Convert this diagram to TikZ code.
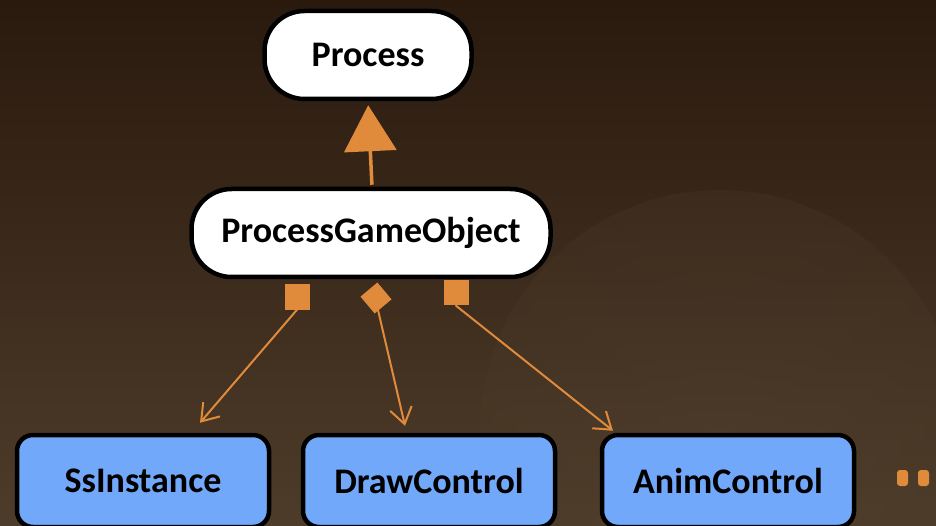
\documentclass[tikz,border=0pt]{standalone}
\usepackage{fontspec}
\setmainfont{Carlito}
\usetikzlibrary{arrows.meta}
\definecolor{bgdark}{HTML}{2A1A0E}
\definecolor{bglight}{HTML}{4E3C2A}
\definecolor{sketch}{HTML}{E08A3C}
\definecolor{boxblue}{HTML}{72A8FA}
\tikzset{
 classbox/.style={draw=black,line width=4.5pt,fill=white,rounded corners=40pt,
   minimum height=88pt,font=\fontsize{36}{40}\selectfont\bfseries,inner xsep=20pt},
 partbox/.style={classbox,fill=boxblue,rounded corners=16pt,minimum width=252pt,minimum height=92pt},
 inherit/.style={draw=sketch,line width=3.5pt,-{Triangle[length=46pt,width=52pt]}},
 owns/.style={draw=sketch,line width=2pt,line cap=round,-{Straight Barb[length=16pt,width=22pt]}},
 ownsq/.style={fill=sketch,minimum size=25pt,inner sep=0pt},
}
\begin{document}
\begin{tikzpicture}[x=1pt,y=-1pt]
 \useasboundingbox (0,0) rectangle (936,526);
 \shade[top color=bgdark,bottom color=bglight] (0,0) rectangle (936,526);
 \shade[inner color=bglight!85!gray,outer color=bglight,opacity=0.25] (720,430) circle (240);
 \node[classbox,minimum width=207pt] (proc) at (368,55) {Process};
 \node[classbox,minimum width=359pt] (pgo) at (371,233) {ProcessGameObject};
 \node[partbox] (ss) at (143,481) {SsInstance};
 \node[partbox] (draw) at (429,481) {DrawControl};
 \node[partbox] (anim) at (728,481) {AnimControl};
 \node[ownsq] (sq1) at (297,297) {};
 \node[ownsq,rotate=40,minimum size=22pt] (sq2) at (376,298) {};
 \node[ownsq] (sq3) at (456,293) {};
 \draw[inherit,shorten <=2pt,shorten >=4pt] (pgo.north) ++(1,0) -- (proc.south);
 \draw[owns] (sq1.south) -- ([xshift=57pt,yshift=10pt]ss.north);
 \draw[owns] (sq2.center) ++(2,12) -- ([xshift=-24pt,yshift=7pt]draw.north);
 \draw[owns] (sq3.south) -- ([xshift=-115pt,yshift=2pt]anim.north);
 \fill[sketch,rounded corners=3pt] (897,470) rectangle (908,486) (918,470) rectangle (929,486);
\end{tikzpicture}
\end{document}
